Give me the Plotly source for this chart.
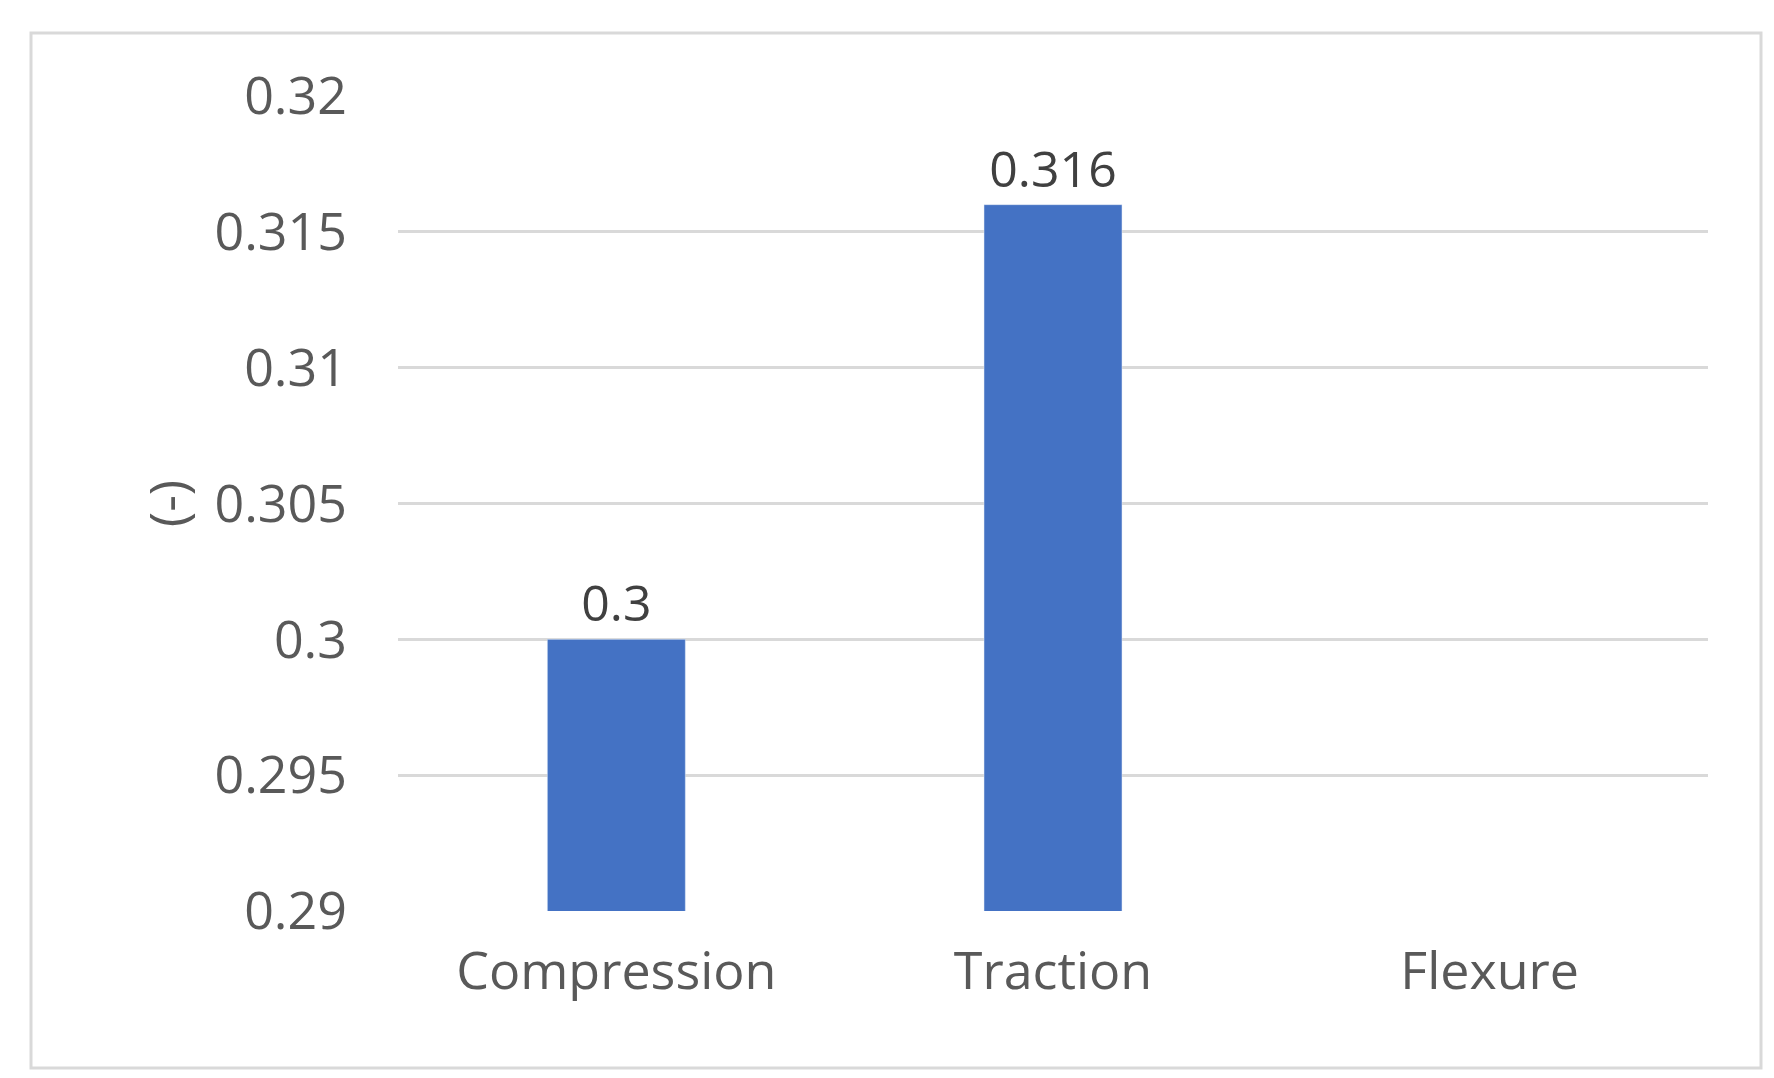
import plotly.graph_objects as go

categories = ["Compression", "Traction", "Flexure"]
values = [0.3, 0.316, None]
labels = ["0.3", "0.316", ""]
yticks = [0.29, 0.295, 0.3, 0.305, 0.31, 0.315, 0.32]

fig = go.Figure(go.Bar(
    x=categories, y=values, text=labels, textposition="outside",
    textfont=dict(size=50, color="#404040"), marker_color="#4472C4",
    width=0.316, cliponaxis=False))

fig.update_layout(
    width=1774, height=1078, paper_bgcolor="white", plot_bgcolor="white",
    margin=dict(l=390, r=74, t=88, b=175),
    font=dict(family="Open Sans, Noto Sans", color="#595959"),
    showlegend=False,
    shapes=[dict(type="rect", xref="paper", yref="paper",
                 x0=-367/1310, x1=1363/1310, y0=-157/815, y1=1+63/815,
                 line=dict(color="#D9D9D9", width=3))],
)
fig.update_xaxes(tickfont=dict(size=52), showline=False, ticks="", ticklabelstandoff=25)
fig.update_yaxes(range=[0.29, 0.32], tickvals=yticks,
                 ticktext=[f"{v:g}" for v in yticks], tickfont=dict(size=52),
                 gridcolor="#D9D9D9", gridwidth=3, zeroline=False, ticklabelstandoff=50,
                 title=dict(text="(-)", font=dict(size=52), standoff=10))
fig.write_html("out.html")
